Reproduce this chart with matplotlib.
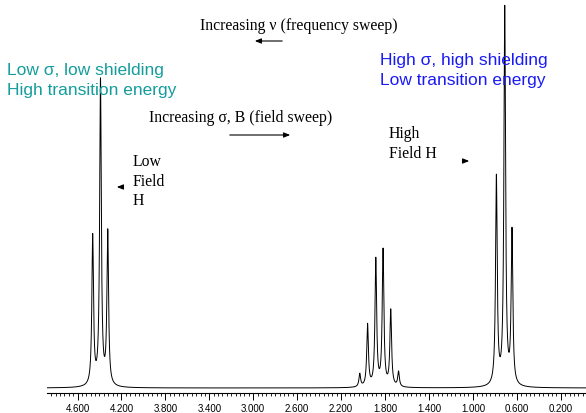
import numpy as np
import matplotlib
matplotlib.use("Agg")
import matplotlib.pyplot as plt
from matplotlib.ticker import MultipleLocator, FormatStrFormatter

# peak list (ppm, height in arbitrary units)
low_field_ppm = [4.462, 4.391, 4.325]
low_field_h = [149, 305, 153]
mid_ppm = [2.030, 1.959, 1.884, 1.818, 1.748, 1.677]
mid_h = [13, 62, 127, 136, 76, 15]
high_field_ppm = [0.786, 0.710, 0.644]
high_field_h = [208, 377, 153]

tick_ppm = [4.6, 4.2, 3.8, 3.4, 3.0, 2.6, 2.2, 1.8, 1.4, 1.0, 0.6, 0.2]

peaks_ppm = np.array(low_field_ppm + mid_ppm + high_field_ppm)
peaks_h = np.array(low_field_h + mid_h + high_field_h)
hwhm = 0.009

x = np.linspace(4.878, -0.03, 30000)
y = np.zeros_like(x)
for p, h in zip(peaks_ppm, peaks_h):
    y += h * hwhm**2 / ((x - p)**2 + hwhm**2)

W, H = 586, 414
fig = plt.figure(figsize=(W / 100, H / 100), dpi=100)
ax = fig.add_axes([47 / W, 20 / H, 1 - 47 / W, 394 / H])
ax.plot(x, y, color="black", lw=0.7)
ax.set_xlim(4.878, -0.03)
ax.set_ylim(-5, 389)

for s in ["top", "right", "left"]:
    ax.spines[s].set_visible(False)
ax.spines["bottom"].set_linewidth(0.8)
ax.set_yticks([])
ax.set_xticks(tick_ppm)
ax.xaxis.set_major_formatter(FormatStrFormatter("%.3f"))
ax.xaxis.set_minor_locator(MultipleLocator(0.04))
ax.tick_params(axis="x", which="major", length=5, width=0.7, pad=2,
               labelsize=7)
ax.tick_params(axis="x", which="minor", length=2.5, width=0.6)
for lbl in ax.get_xticklabels():
    lbl.set_family(["Liberation Sans Narrow", "Liberation Sans"])


def ftext(px, py, s, **kw):
    fig.text(px / W, 1 - py / H, s, va="center", **kw)


def farrow(x0, x1, py):
    fig.add_artist(matplotlib.patches.FancyArrowPatch(
        (x0 / W, 1 - py / H), (x1 / W, 1 - py / H),
        transform=fig.transFigure, arrowstyle="-|>,head_length=2.5,head_width=1.0",
        color="black", lw=0.8, mutation_scale=1.5))


serif = ["Liberation Serif", "DejaVu Serif"]
sans = ["Liberation Sans", "DejaVu Sans"]

ftext(200, 26, "Increasing \u03bd (frequency sweep)", family=serif, fontsize=11.3)
farrow(285, 252, 42)
ftext(149, 118, "Increasing \u03c3, B (field sweep)", family=serif, fontsize=11.3)
farrow(227, 293, 136)

ftext(7, 70, "Low \u03c3, low shielding", family=sans, fontsize=12.5, color="#169C9C")
ftext(7, 90, "High transition energy", family=sans, fontsize=12.5, color="#169C9C")
ftext(380, 60, "High \u03c3, high shielding", family=sans, fontsize=12.5, color="#1A1AF5")
ftext(380, 80, "Low transition energy", family=sans, fontsize=12.5, color="#1A1AF5")

ftext(133, 162, "Low", family=serif, fontsize=11.3)
ftext(133, 182, "Field", family=serif, fontsize=11.3)
ftext(133, 201, "H", family=serif, fontsize=11.3)
farrow(126, 114, 188)

ftext(389, 134, "High", family=serif, fontsize=11.3)
ftext(389, 154, "Field H", family=serif, fontsize=11.3)
farrow(460, 472, 162)

fig.savefig("out.png", dpi=100)
